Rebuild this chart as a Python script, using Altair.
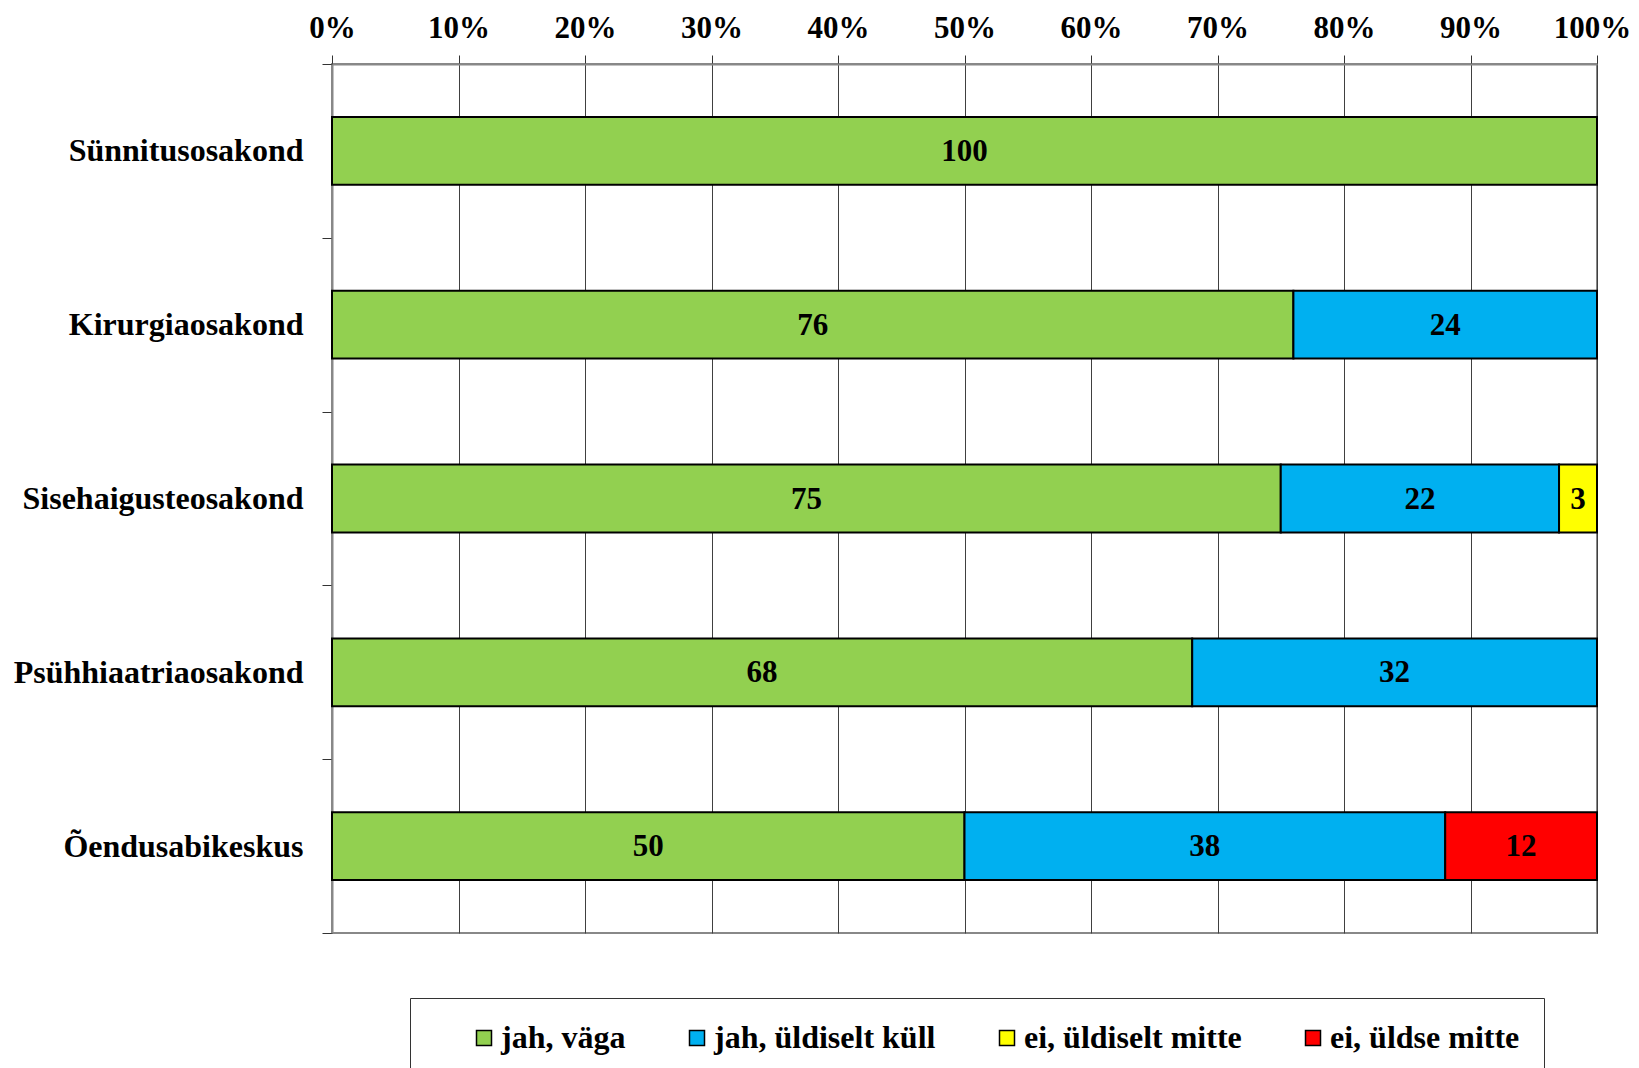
import altair as alt
import pandas as pd

categories = ["Sünnitusosakond", "Kirurgiaosakond", "Sisehaigusteosakond",
              "Psühhiaatriaosakond", "Õendusabikeskus"]
series = ["jah, väga", "jah, üldiselt küll", "ei, üldiselt mitte", "ei, üldse mitte"]
colors = ["#92D050", "#00B0F0", "#FFFF00", "#FF0000"]

jah_vaga = [100, 76, 75, 68, 50]
jah_uldiselt_kull = [0, 24, 22, 32, 38]
ei_uldiselt_mitte = [0, 0, 3, 0, 0]
ei_uldse_mitte = [0, 0, 0, 0, 12]

x_ticks = [0, 10, 20, 30, 40, 50, 60, 70, 80, 90, 100]

FONT = "Liberation Serif"
FS = 31

rows = []
for si, (s, vals) in enumerate(zip(series, [jah_vaga, jah_uldiselt_kull, ei_uldiselt_mitte, ei_uldse_mitte])):
    for c, v in zip(categories, vals):
        rows.append({"cat": c, "series": s, "order": si, "value": v})
df = pd.DataFrame(rows)

base = (
    alt.Chart(df)
    .transform_stack(stack="value", groupby=["cat"], as_=["x0", "x1"],
                     sort=[alt.SortField("order", order="ascending")])
    .transform_calculate(mid="(datum.x0 + datum.x1) / 2")
    .transform_filter("datum.value > 0")
)

x_axis = alt.Axis(orient="top", values=x_ticks, labelExpr="datum.value + '%'", title=None,
                  grid=True, gridColor="#404040", gridWidth=1,
                  ticks=True, tickSize=9, tickColor="#333", tickWidth=1,
                  domain=True, domainColor="#888", domainWidth=2,
                  labelFont=FONT, labelFontSize=FS, labelFontWeight="bold", labelColor="black",
                  labelPadding=11, labelFlush=False,
                  labelOffset={"condition": {"test": "datum.value == 100", "value": -5}, "value": 0})

y_enc = alt.Y("cat:N", sort=categories,
              scale=alt.Scale(paddingInner=0, paddingOuter=0),
              axis=alt.Axis(title=None, grid=False, tickBand="extent",
                            ticks=True, tickSize=10, tickColor="#333", tickWidth=1,
                            domain=True, domainColor="#888", domainWidth=2,
                            labelFont=FONT, labelFontSize=32, labelFontWeight="bold",
                            labelColor="black", labelPadding=19, labelLimit=400))

color_enc = alt.Color("series:N", sort=series,
                      scale=alt.Scale(domain=series, range=colors),
                      legend=alt.Legend(orient="none", legendX=78, legendY=934,
                                        direction="horizontal", columns=4,
                                        title=" ", titleOrient="left", titlePadding=34,
                                        titleFont=FONT, titleFontSize=FS,
                                        symbolType="square", symbolSize=225,
                                        symbolStrokeColor="black", symbolStrokeWidth=1.5,
                                        labelFont=FONT, labelFontSize=32, labelFontWeight="bold",
                                        labelColor="black", labelOffset=1, columnPadding=55,
                                        labelExpr="indexof(datum.label, 'dse') >= 0 ? datum.label + '\u00a0\u00a0\u00a0\u00a0' : datum.label",
                                        padding=24, strokeColor="#333", fillColor="white",
                                        labelLimit=600))

bars = base.mark_bar(stroke="black", strokeWidth=2, height=alt.RelativeBandSize(0.39)).encode(
    x=alt.X("x0:Q", scale=alt.Scale(domain=[0, 100], nice=False), axis=x_axis),
    x2="x1:Q",
    y=y_enc,
    color=color_enc,
)

labels = base.mark_text(font=FONT, fontSize=FS, fontWeight="bold", color="black",
                        baseline="middle", align="center", dy=1).encode(
    x=alt.X("mid:Q", scale=alt.Scale(domain=[0, 100], nice=False), axis=x_axis),
    y=y_enc,
    text=alt.Text("value:Q"),
)

chart = (
    alt.layer(bars, labels)
    .properties(width=1265, height=869,
                autosize=alt.AutoSizeParams(type="none"),
                padding={"left": 324, "top": 56, "right": 34, "bottom": 135},
                background="white")
    .configure(font=FONT)
    .configure_legend(labelFont=FONT, labelFontWeight="bold")
    .configure_view(stroke="#888", strokeWidth=2)
)

chart.save("out.html", embed_options={"renderer": "svg", "actions": False})
